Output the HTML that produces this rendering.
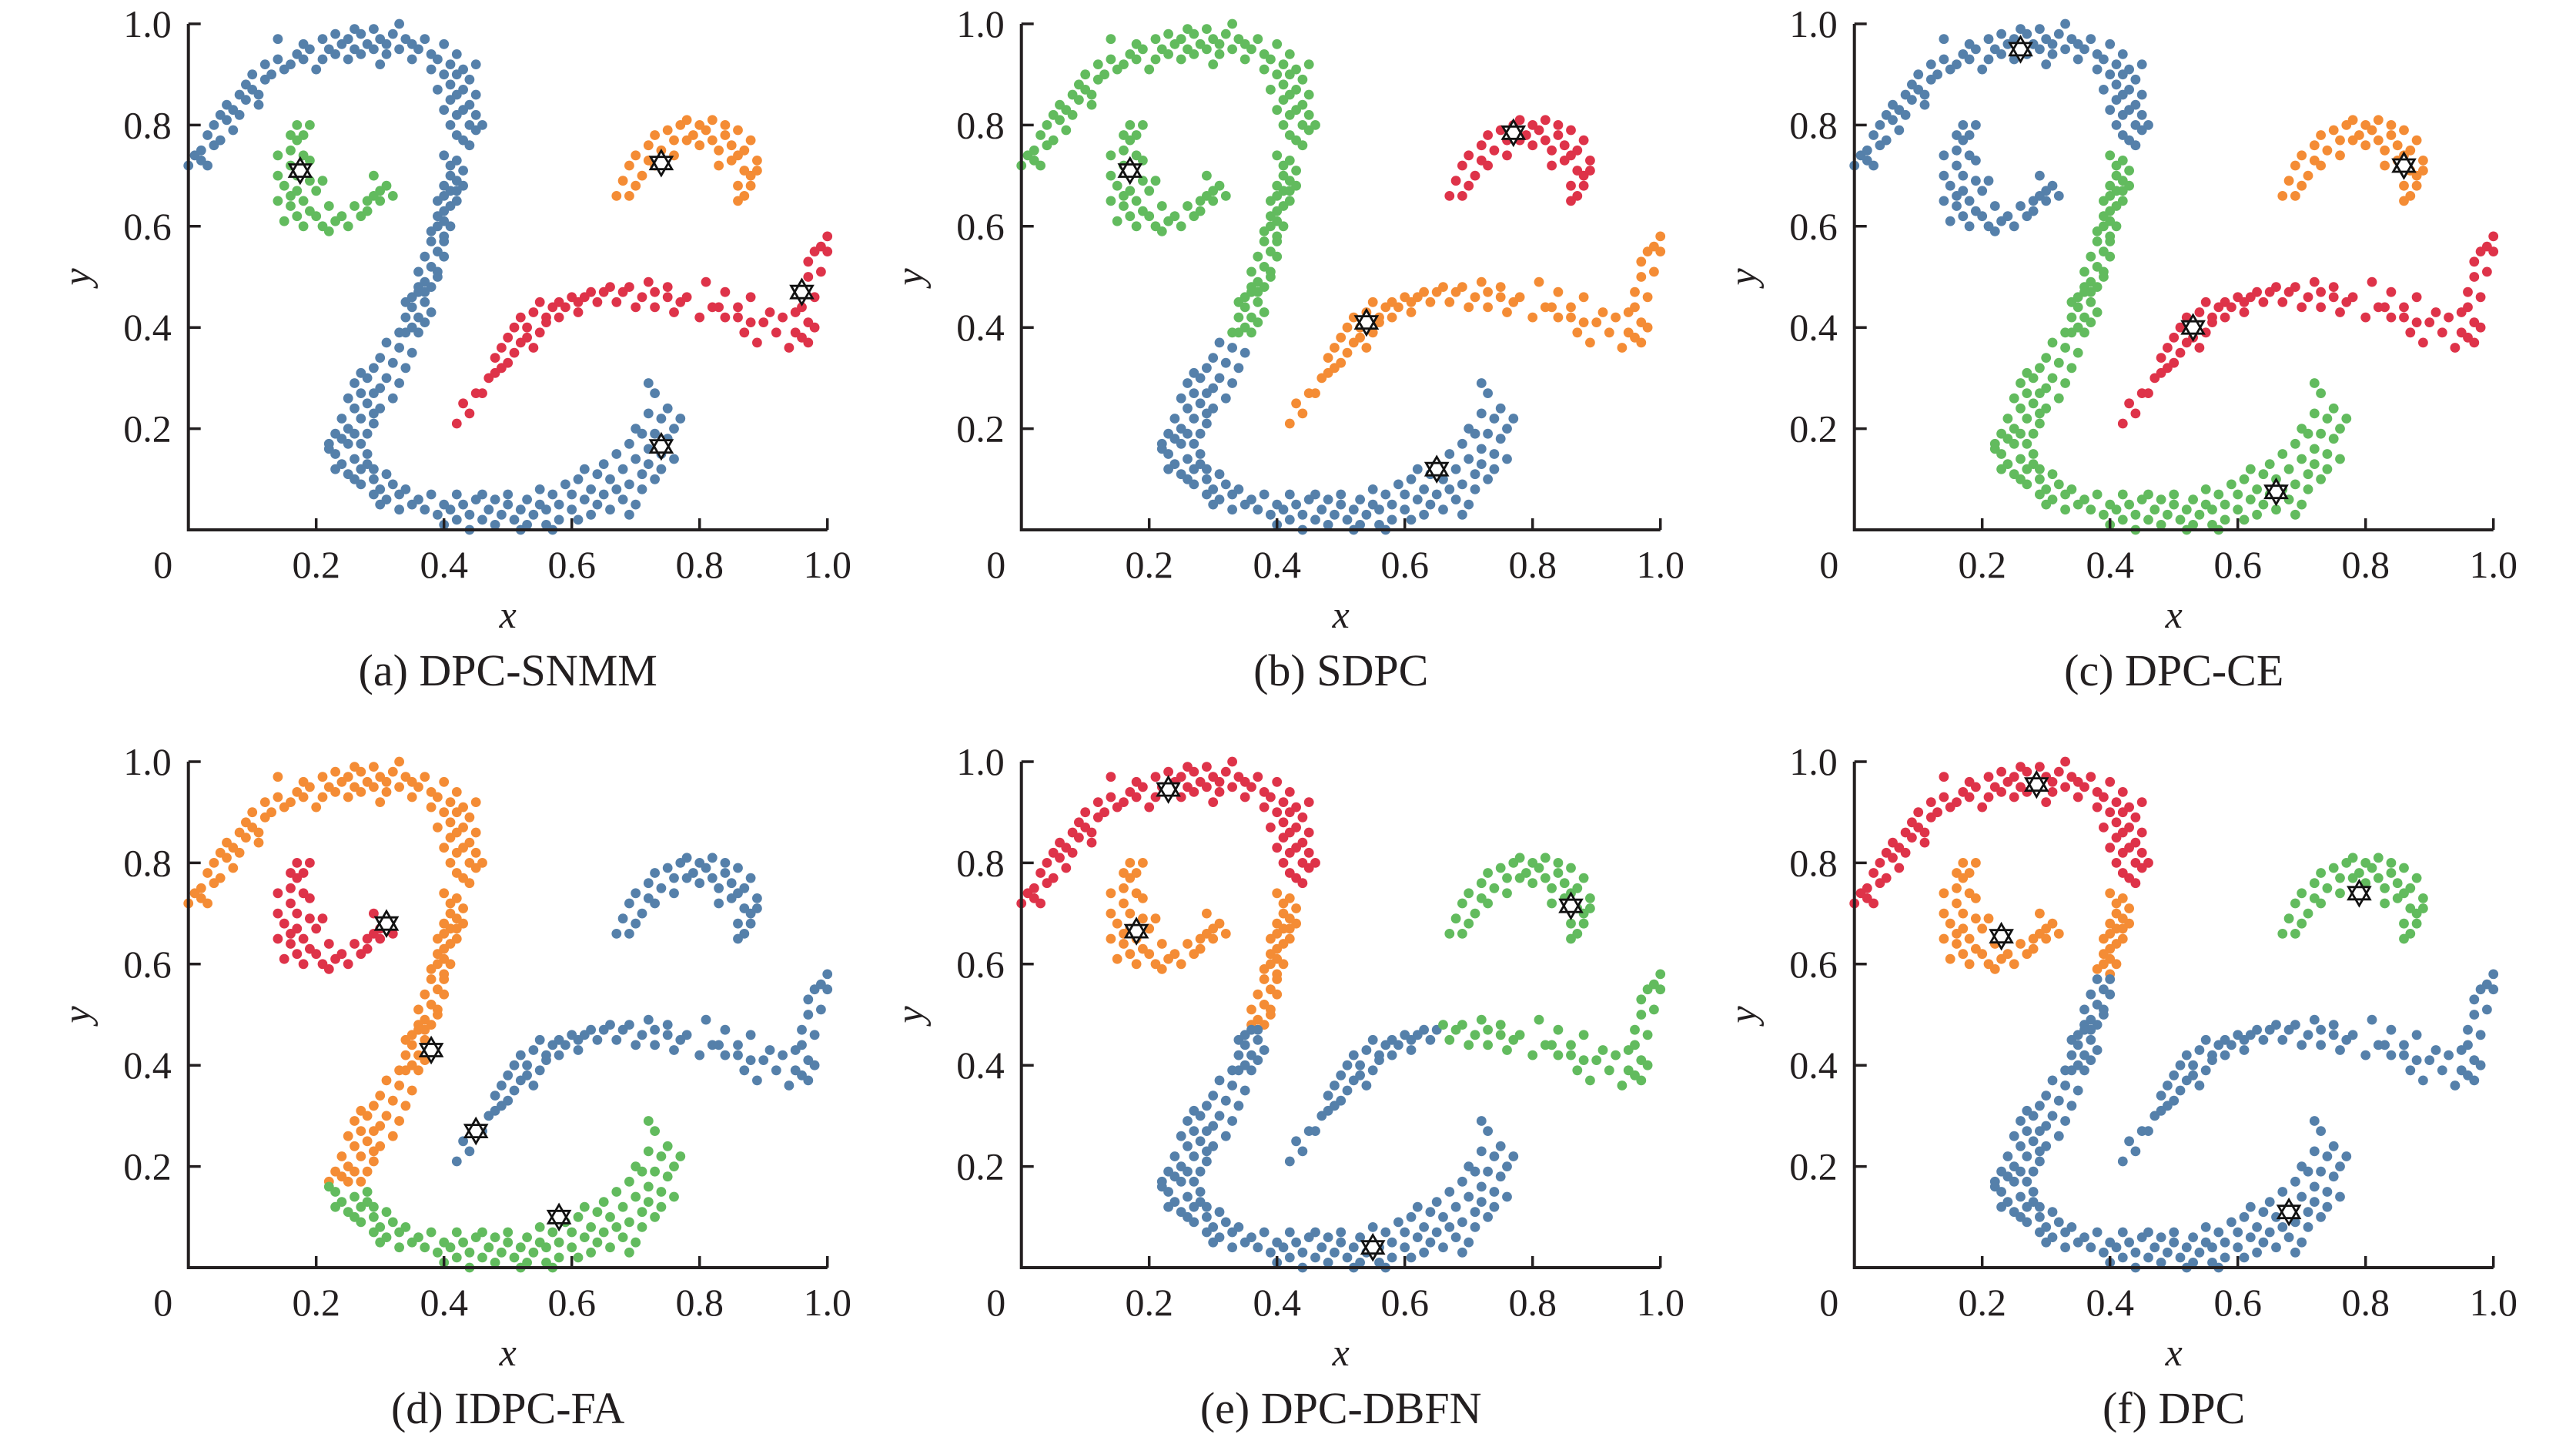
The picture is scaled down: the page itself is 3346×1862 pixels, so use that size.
<!DOCTYPE html>
<html><head><meta charset="utf-8"><style>
html,body{margin:0;padding:0;background:#fff;}
svg{display:block;}
text{font-family:"Liberation Serif","Times New Roman",serif;fill:#231f20;}
</style></head><body>
<svg id="fig" width="3346" height="1862" viewBox="0 0 3346 1862" xmlns="http://www.w3.org/2000/svg"></svg>
<script>
// ---- data (same dataset, segmented) ----
const segT=[[0.00,0.72],[0.01,0.74],[0.02,0.73],[0.02,0.75],[0.03,0.78],[0.04,0.76],[0.04,0.80],[0.05,0.77],[0.05,0.82],[0.06,0.81],[0.06,0.84],[0.07,0.83],[0.07,0.79],[0.08,0.86],[0.08,0.82],[0.09,0.85],[0.09,0.88],[0.10,0.87],[0.10,0.90],[0.11,0.86],[0.12,0.92],[0.12,0.89],[0.13,0.90],[0.14,0.93],[0.14,0.97],[0.15,0.91],[0.16,0.92],[0.17,0.94],[0.18,0.96],[0.19,0.95],[0.20,0.91],[0.21,0.93],[0.21,0.97],[0.22,0.95],[0.23,0.94],[0.23,0.98],[0.24,0.96],[0.25,0.93],[0.25,0.97],[0.26,0.95],[0.27,0.98],[0.27,0.94],[0.28,0.96],[0.29,0.99],[0.29,0.95],[0.30,0.97],[0.30,0.92],[0.31,0.96],[0.31,0.94],[0.32,0.98],[0.33,1.00],[0.33,0.95],[0.34,0.97],[0.35,0.96],[0.35,0.93],[0.36,0.95],[0.26,0.99],[0.18,0.93],[0.11,0.84],[0.03,0.72]];
const segR1=[[0.37,0.97],[0.38,0.94],[0.38,0.91],[0.39,0.93],[0.40,0.96],[0.40,0.90],[0.41,0.92],[0.41,0.88],[0.42,0.90],[0.42,0.94],[0.41,0.85],[0.42,0.86],[0.43,0.87],[0.43,0.91],[0.44,0.89],[0.44,0.84],[0.45,0.92],[0.45,0.86],[0.42,0.82],[0.43,0.83],[0.44,0.80],[0.45,0.82],[0.46,0.80],[0.42,0.78],[0.43,0.77],[0.44,0.76],[0.45,0.79],[0.41,0.80],[0.40,0.83],[0.39,0.87]];
const segR2=[[0.40,0.74],[0.41,0.72],[0.42,0.73],[0.41,0.70],[0.42,0.69],[0.43,0.71],[0.40,0.68],[0.41,0.67],[0.40,0.66],[0.41,0.64],[0.42,0.65],[0.39,0.65],[0.40,0.63],[0.39,0.62],[0.40,0.61],[0.41,0.60],[0.39,0.60],[0.38,0.59],[0.40,0.58],[0.42,0.67],[0.43,0.68]];
const segR3=[[0.38,0.57],[0.39,0.55],[0.37,0.54],[0.38,0.52],[0.39,0.51],[0.36,0.51],[0.37,0.49],[0.38,0.48],[0.39,0.50],[0.40,0.54],[0.36,0.48],[0.40,0.57]];
const segR4=[[0.35,0.46],[0.36,0.47],[0.37,0.45],[0.35,0.44],[0.36,0.42],[0.37,0.41],[0.34,0.42],[0.35,0.40],[0.33,0.39],[0.34,0.39],[0.36,0.39],[0.38,0.43],[0.37,0.47],[0.34,0.45]];
const segL1=[[0.31,0.37],[0.33,0.36],[0.35,0.35],[0.30,0.34],[0.32,0.33],[0.34,0.32],[0.29,0.32],[0.31,0.30],[0.33,0.29],[0.27,0.31],[0.28,0.30],[0.30,0.28],[0.29,0.27],[0.32,0.26],[0.26,0.29],[0.27,0.27],[0.28,0.25],[0.30,0.24],[0.25,0.26],[0.26,0.24],[0.27,0.22],[0.29,0.21],[0.24,0.22],[0.25,0.20],[0.26,0.19],[0.28,0.19],[0.23,0.19],[0.24,0.18],[0.27,0.17],[0.22,0.17],[0.25,0.17],[0.29,0.23]];
const segB1=[[0.22,0.16],[0.23,0.15],[0.24,0.13],[0.26,0.14],[0.27,0.12],[0.25,0.11],[0.23,0.12],[0.28,0.15],[0.29,0.12],[0.27,0.09],[0.29,0.10],[0.30,0.08],[0.31,0.11],[0.32,0.09],[0.29,0.07],[0.31,0.06],[0.33,0.07],[0.35,0.05],[0.34,0.08],[0.36,0.06],[0.37,0.04],[0.38,0.07],[0.39,0.03],[0.40,0.05],[0.33,0.04],[0.30,0.05],[0.26,0.10],[0.28,0.13]];
const segB2=[[0.40,0.01],[0.41,0.04],[0.42,0.02],[0.43,0.05],[0.44,0.00],[0.44,0.03],[0.45,0.06],[0.46,0.02],[0.47,0.04],[0.48,0.01],[0.48,0.06],[0.49,0.03],[0.50,0.05],[0.50,0.07],[0.51,0.02],[0.52,0.04],[0.52,0.00],[0.53,0.06],[0.54,0.03],[0.55,0.05],[0.55,0.08],[0.56,0.01],[0.56,0.04],[0.57,0.07],[0.58,0.02],[0.58,0.05],[0.59,0.09],[0.60,0.04],[0.60,0.07],[0.61,0.02],[0.61,0.10],[0.62,0.06],[0.63,0.03],[0.63,0.08],[0.64,0.11],[0.64,0.05],[0.65,0.07],[0.65,0.13],[0.66,0.04],[0.66,0.10],[0.67,0.08],[0.67,0.15],[0.68,0.06],[0.68,0.12],[0.69,0.17],[0.69,0.09],[0.70,0.05],[0.70,0.14],[0.70,0.20],[0.71,0.11],[0.71,0.08],[0.72,0.16],[0.72,0.23],[0.72,0.13],[0.73,0.10],[0.73,0.19],[0.73,0.27],[0.74,0.15],[0.74,0.22],[0.74,0.12],[0.75,0.18],[0.75,0.24],[0.76,0.14],[0.76,0.20],[0.72,0.29],[0.77,0.22],[0.71,0.19],[0.69,0.03],[0.62,0.12],[0.57,0.00],[0.53,0.01],[0.46,0.07],[0.42,0.07]];
const segH=[[0.17,0.80],[0.19,0.80],[0.16,0.78],[0.17,0.77],[0.18,0.78],[0.16,0.75],[0.18,0.74],[0.19,0.73],[0.14,0.74],[0.16,0.72],[0.14,0.70],[0.15,0.68],[0.17,0.70],[0.16,0.66],[0.14,0.65],[0.17,0.67],[0.18,0.65],[0.16,0.64],[0.17,0.62],[0.15,0.61],[0.19,0.63],[0.18,0.60],[0.20,0.62],[0.21,0.60],[0.22,0.64],[0.23,0.61],[0.22,0.59],[0.24,0.62],[0.25,0.60],[0.26,0.64],[0.27,0.62],[0.28,0.65],[0.28,0.63],[0.29,0.66],[0.30,0.67],[0.30,0.65],[0.31,0.68],[0.29,0.70],[0.32,0.66],[0.20,0.67],[0.21,0.69],[0.19,0.69]];
const segA=[[0.67,0.66],[0.69,0.66],[0.68,0.69],[0.70,0.68],[0.69,0.72],[0.71,0.70],[0.70,0.74],[0.72,0.73],[0.72,0.76],[0.73,0.72],[0.73,0.78],[0.74,0.75],[0.75,0.79],[0.76,0.77],[0.76,0.74],[0.77,0.80],[0.78,0.81],[0.78,0.77],[0.79,0.78],[0.80,0.80],[0.80,0.76],[0.81,0.79],[0.82,0.81],[0.82,0.77],[0.83,0.75],[0.84,0.78],[0.84,0.80],[0.85,0.76],[0.85,0.73],[0.86,0.79],[0.86,0.74],[0.87,0.71],[0.87,0.75],[0.88,0.70],[0.88,0.77],[0.86,0.68],[0.87,0.66],[0.86,0.65],[0.89,0.73],[0.88,0.68],[0.89,0.71],[0.83,0.72]];
const segM1=[[0.42,0.21],[0.43,0.25],[0.44,0.23],[0.45,0.27],[0.46,0.27],[0.47,0.30],[0.48,0.31],[0.48,0.34],[0.49,0.32],[0.49,0.36],[0.50,0.33],[0.50,0.38],[0.51,0.35],[0.51,0.40],[0.52,0.37],[0.52,0.42],[0.53,0.38],[0.53,0.40],[0.54,0.43],[0.55,0.39],[0.55,0.45],[0.56,0.42],[0.57,0.44],[0.58,0.42],[0.58,0.45],[0.59,0.44],[0.60,0.46],[0.61,0.43],[0.61,0.45],[0.62,0.46],[0.63,0.47],[0.64,0.45],[0.65,0.47],[0.56,0.41],[0.54,0.36]];
const segM2=[[0.66,0.48],[0.67,0.45],[0.68,0.47],[0.69,0.48],[0.70,0.44],[0.71,0.46],[0.72,0.49],[0.73,0.44],[0.73,0.47],[0.75,0.48],[0.75,0.46],[0.76,0.43],[0.77,0.45],[0.78,0.46],[0.80,0.42],[0.81,0.49],[0.82,0.44],[0.83,0.44],[0.84,0.42],[0.84,0.47],[0.86,0.44],[0.86,0.42],[0.87,0.39],[0.88,0.41],[0.88,0.46],[0.89,0.37],[0.90,0.41],[0.91,0.43],[0.92,0.39],[0.93,0.42],[0.94,0.36],[0.95,0.39],[0.95,0.43],[0.96,0.38],[0.96,0.47],[0.97,0.41],[0.97,0.50],[0.97,0.53],[0.98,0.46],[0.98,0.55],[0.99,0.51],[0.99,0.56],[1.00,0.58],[1.00,0.55],[0.98,0.40],[0.96,0.44],[0.97,0.37]];
const segNames=["T","R1","R2","R3","R4","L1","B1","B2","H","A","M1","M2"];
const segData=[segT,segR1,segR2,segR3,segR4,segL1,segB1,segB2,segH,segA,segM1,segM2];
// cluster index per segment for each panel: 0 blue,1 orange,2 green,3 red
const titles=["(a) DPC-SNMM","(b) SDPC","(c) DPC-CE","(d) IDPC-FA","(e) DPC-DBFN","(f) DPC"];
const labelsA=[0,0,0,0,0,0,0,0,2,1,3,3];
const labelsB=[2,2,2,2,2,0,0,0,2,3,1,1];
const labelsC=[0,0,2,2,2,2,2,2,0,1,3,3];
const labelsD=[1,1,1,1,1,1,2,2,3,0,0,0];
const labelsE=[3,3,1,1,0,0,0,0,1,2,0,2];
const labelsF=[3,3,1,0,0,0,0,0,1,2,0,0];
const panelLabels=[labelsA,labelsB,labelsC,labelsD,labelsE,labelsF];
const centersA=[[0.175,0.71],[0.74,0.725],[0.96,0.47],[0.74,0.165]];
const centersB=[[0.17,0.71],[0.77,0.785],[0.54,0.41],[0.65,0.12]];
const centersC=[[0.26,0.95],[0.86,0.72],[0.53,0.40],[0.66,0.075]];
const centersD=[[0.31,0.68],[0.38,0.43],[0.45,0.27],[0.58,0.10]];
const centersE=[[0.23,0.945],[0.18,0.665],[0.86,0.715],[0.55,0.04]];
const centersF=[[0.285,0.955],[0.23,0.655],[0.79,0.74],[0.68,0.11]];
const panelCenters=[centersA,centersB,centersC,centersD,centersE,centersF];
const tickVals=[0.2,0.4,0.6,0.8,1.0];
const tickText=["0.2","0.4","0.6","0.8","1.0"];
const colors=["#5580aa","#f48c35","#62bb5e","#de3349"];

const NS="http://www.w3.org/2000/svg";
const svg=document.getElementById("fig");
function mk(tag,attrs,parent){const e=document.createElementNS(NS,tag);for(const k in attrs)e.setAttribute(k,attrs[k]);(parent||svg).appendChild(e);return e;}
const XU=830,YU=657;
function starPath(cx,cy,r){
  let d="";
  for(let t=0;t<2;t++){
    for(let i=0;i<3;i++){
      const a=(-90+t*180+i*120)*Math.PI/180;
      d+=(i?"L":"M")+(cx+r*Math.cos(a)).toFixed(1)+","+(cy+r*Math.sin(a)).toFixed(1);
    }
    d+="Z";
  }
  return d;
}
for(let p=0;p<6;p++){
  const col=p%3,row=Math.floor(p/3);
  const x0=244.7+1082*col, y0=688+958*row;
  const sx=v=>x0+v*XU, sy=v=>y0-v*YU;
  const g=mk("g",{});
  
  
  const pts=mk("g",{},g);
  
  
  segData.forEach((seg,si)=>{
    const c=colors[panelLabels[p][si]];
    seg.forEach(pt=>{
      const ci=mk("circle",{cx:sx(pt[0]).toFixed(1),cy:sy(pt[1]).toFixed(1),r:6.4,fill:c},pts);
      
      
    });
  });
  const ax=mk("path",{d:`M${x0},${sy(1)}L${x0},${y0}L${sx(1)},${y0}`,fill:"none",stroke:"#231f20","stroke-width":4},g);
  
  
  tickVals.forEach((v,i)=>{
    const tx=mk("line",{x1:sx(v),y1:y0,x2:sx(v),y2:y0-15,stroke:"#231f20","stroke-width":3.5},g);
    
    
    const ty=mk("line",{x1:x0,y1:sy(v),x2:x0+16,y2:sy(v),stroke:"#231f20","stroke-width":3.5},g);
    
    
    const lx=mk("text",{x:sx(v),y:y0+62,"font-size":50,"text-anchor":"middle"},g);
    lx.textContent=tickText[i];
    
    
    const ly=mk("text",{x:x0-22,y:sy(v)+17,"font-size":50,"text-anchor":"end"},g);
    ly.textContent=tickText[i];
    
    
  });
  const z=mk("text",{x:x0-33,y:y0+62,"font-size":50,"text-anchor":"middle"},g);
  z.textContent="0";
  
  
  const xl=mk("text",{x:sx(0.5),y:y0+127,"font-size":50,"font-style":"italic","text-anchor":"middle"},g);
  xl.textContent="x";
  
  
  const yc=sy(0.5);
  const yl=mk("text",{x:x0-128,y:yc,"font-size":50,"font-style":"italic","text-anchor":"middle",transform:`rotate(-90 ${x0-128} ${yc})`},g);
  yl.textContent="y";
  
  
  const tt=mk("text",{x:sx(0.5),y:y0+202,"font-size":58,"text-anchor":"middle"},g);
  tt.textContent=titles[p];
  
  
  panelCenters[p].forEach(c=>{
    const s=mk("path",{d:starPath(sx(c[0]),sy(c[1]),16),fill:"#fff",stroke:"#111","stroke-width":2.8,"stroke-linejoin":"miter"},g);
    
    
  });
}
</script>
</body></html>
